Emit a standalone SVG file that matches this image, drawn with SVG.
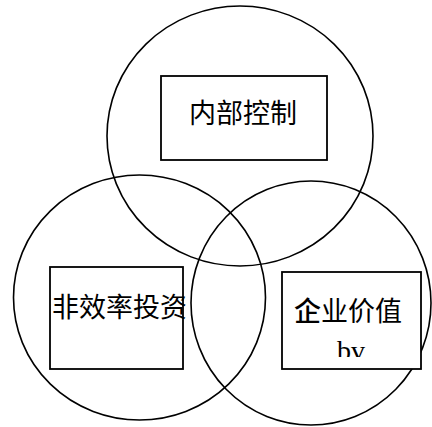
<svg xmlns="http://www.w3.org/2000/svg" width="432" height="427" viewBox="0 0 432 427">
<style>
.c{fill:none;stroke:#000;stroke-width:1.6}
.b{fill:#fff;stroke:#000;stroke-width:1.8}
.t{font-family:"Noto Sans CJK SC","Noto Sans",sans-serif;font-size:27px;fill:#000}
.s{font-family:"Liberation Serif",serif;font-size:28px;fill:#000}
</style>
<defs>
<clipPath id="clipbv"><rect x="280" y="300" width="150" height="57"/></clipPath>
</defs>
<g id="circles">
<ellipse class="c" cx="240" cy="136" rx="133" ry="130"/>
<ellipse class="c" cx="139.5" cy="297.5" rx="126" ry="122.5"/>
<ellipse class="c" cx="311" cy="303" rx="120" ry="122"/>
</g>
<g id="node-internal">
<rect class="b" x="161" y="76" width="166" height="84"/>
<text class="t" x="243" y="123" text-anchor="middle">内部控制</text>
</g>
<g id="node-invest">
<rect class="b" x="50" y="267" width="133" height="102"/>
<text class="t" x="52" y="317">非效率投资</text>
</g>
<g id="node-value">
<rect class="b" x="282" y="272" width="139" height="97"/>
<text class="t" x="294" y="321"><tspan font-weight="500">企</tspan>业价值</text>
<text class="s" x="351" y="360" text-anchor="middle" clip-path="url(#clipbv)">bv</text>
</g>
</svg>
